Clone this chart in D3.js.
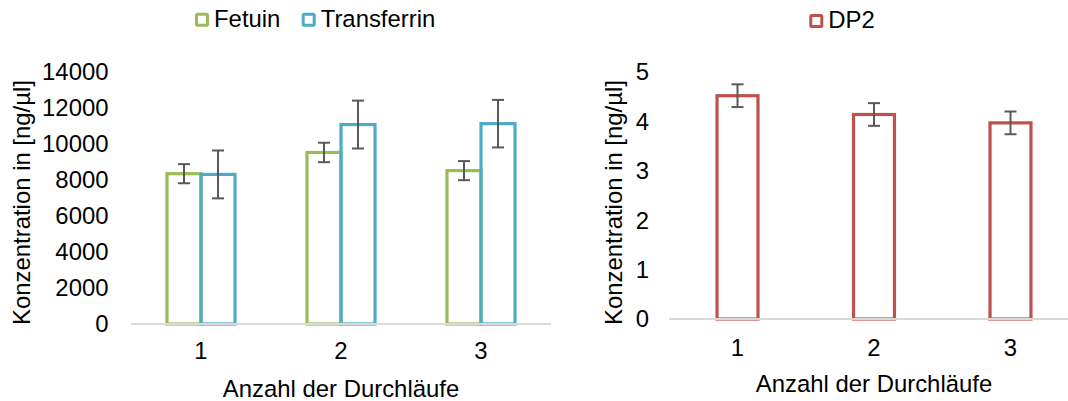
<!DOCTYPE html>
<html>
<head>
<meta charset="utf-8">
<script src="https://cdn.jsdelivr.net/npm/d3@7/dist/d3.min.js"></script>
<style>
  html, body { margin: 0; padding: 0; background: #fff; }
  svg text { font-family: "Liberation Sans", Arial, sans-serif; fill: #000; }
</style>
</head>
<body>
<svg id="chart" width="1068" height="401"></svg>
<script>
// Runs (x categories)
const runs = ["1", "2", "3"];

// Left panel: protein concentrations in ng/µl with standard deviations
const fetuin = [8350, 9530, 8520];
const fetuinErr = [530, 540, 530];
const transferrin = [8310, 11080, 11130];
const transferrinErr = [1330, 1330, 1320];

// Right panel: DP2 concentrations in ng/µl
const dp2 = [4.52, 4.14, 3.97];
const dp2Err = [0.23, 0.23, 0.23];

// Axis ticks
const leftTicks = [0, 2000, 4000, 6000, 8000, 10000, 12000, 14000];
const rightTicks = [0, 1, 2, 3, 4, 5];

const yTitle = "Konzentration in [ng/µl]";
const xTitle = "Anzahl der Durchläufe";

const colors = { Fetuin: "#9BBB59", Transferrin: "#4BACC6", DP2: "#C0504D" };
const errColor = "#595959";
const axisColor = "#D9D9D9";
const fontSize = 23.9;

const svg = d3.select("#chart");

function errorBars(g, xs, vals, errs, y) {
  const cap = 6;
  vals.forEach((v, i) => {
    const cx = xs[i];
    const top = y(v + errs[i]), bot = y(v - errs[i]);
    g.append("line").attr("x1", cx).attr("x2", cx).attr("y1", top).attr("y2", bot)
      .attr("stroke", errColor).attr("stroke-width", 2);
    [top, bot].forEach(yy => g.append("line")
      .attr("x1", cx - cap).attr("x2", cx + cap).attr("y1", yy).attr("y2", yy)
      .attr("stroke", errColor).attr("stroke-width", 2));
  });
}

function legendItem(g, x, y, name) {
  g.append("rect").attr("x", x + 1.5).attr("y", y + 1.5).attr("width", 11).attr("height", 11)
    .attr("rx", 1).attr("fill", "#fff").attr("stroke", colors[name]).attr("stroke-width", 3);
  g.append("text").attr("x", x + 19).attr("y", y + 14.3).attr("font-size", fontSize).text(name);
}

// ---------- Left panel: Fetuin & Transferrin ----------
{
  const g = svg.append("g");
  const x = d3.scaleBand().domain(runs).range([131, 551]).paddingInner(0.514).paddingOuter(0.257);
  const series = ["Fetuin", "Transferrin"];
  const xs = d3.scaleBand().domain(series).range([0, x.bandwidth()]);
  const y = d3.scaleLinear().domain([0, 14000]).range([324, 72]);
  const data = { Fetuin: [fetuin, fetuinErr], Transferrin: [transferrin, transferrinErr] };

  series.forEach(s => {
    g.selectAll(null).data(runs).enter().append("rect")
      .attr("x", (d) => x(d) + xs(s))
      .attr("width", xs.bandwidth())
      .attr("y", (d, i) => y(data[s][0][i]))
      .attr("height", (d, i) => y(0) - y(data[s][0][i]))
      .attr("fill", "none").attr("stroke", colors[s]).attr("stroke-width", 3.2);
  });

  // category axis line
  g.append("line").attr("x1", 131).attr("x2", 551).attr("y1", y(0)).attr("y2", y(0))
    .attr("stroke", axisColor).attr("stroke-width", 2);

  series.forEach(s => {
    const centers = runs.map(d => x(d) + xs(s) + xs.bandwidth() / 2);
    errorBars(g, centers, data[s][0], data[s][1], y);
  });

  g.selectAll(".ytick").data(leftTicks).enter().append("text")
    .attr("x", 108.5).attr("y", d => y(d)).attr("dy", "0.35em")
    .attr("text-anchor", "end").attr("font-size", fontSize).text(d => d);

  g.selectAll(".xtick").data(runs).enter().append("text")
    .attr("x", d => x(d) + x.bandwidth() / 2).attr("y", 359)
    .attr("text-anchor", "middle").attr("font-size", fontSize).text(d => d);

  g.append("text").attr("x", 341).attr("y", 397).attr("text-anchor", "middle")
    .attr("font-size", fontSize).text(xTitle);
  g.append("text").attr("transform", "translate(30,202.5) rotate(-90)")
    .attr("text-anchor", "middle").attr("font-size", fontSize).text(yTitle);

  const lg = g.append("g");
  legendItem(lg, 195, 12.7, "Fetuin");
  legendItem(lg, 301.7, 12.7, "Transferrin");
}

// ---------- Right panel: DP2 ----------
{
  const g = svg.append("g");
  const x = d3.scaleBand().domain(runs).range([669.25, 1078.75]).paddingInner(0.7).paddingOuter(0.35);
  const y = d3.scaleLinear().domain([0, 5]).range([319, 72]);

  g.selectAll(null).data(runs).enter().append("rect")
    .attr("x", d => x(d)).attr("width", x.bandwidth())
    .attr("y", (d, i) => y(dp2[i]))
    .attr("height", (d, i) => y(0) - y(dp2[i]))
    .attr("fill", "none").attr("stroke", colors.DP2).attr("stroke-width", 3.2);

  g.append("line").attr("x1", 669).attr("x2", 1068).attr("y1", y(0)).attr("y2", y(0))
    .attr("stroke", axisColor).attr("stroke-width", 2);

  errorBars(g, runs.map(d => x(d) + x.bandwidth() / 2), dp2, dp2Err, y);

  g.selectAll(".ytick").data(rightTicks).enter().append("text")
    .attr("x", 649).attr("y", d => y(d)).attr("dy", "0.35em")
    .attr("text-anchor", "end").attr("font-size", fontSize).text(d => d);

  g.selectAll(".xtick").data(runs).enter().append("text")
    .attr("x", d => x(d) + x.bandwidth() / 2).attr("y", 356)
    .attr("text-anchor", "middle").attr("font-size", fontSize).text(d => d);

  g.append("text").attr("x", 874).attr("y", 392).attr("text-anchor", "middle")
    .attr("font-size", fontSize).text(xTitle);
  g.append("text").attr("transform", "translate(622,202.5) rotate(-90)")
    .attr("text-anchor", "middle").attr("font-size", fontSize).text(yTitle);

  legendItem(g.append("g"), 809.3, 14, "DP2");
}
</script>
</body>
</html>
